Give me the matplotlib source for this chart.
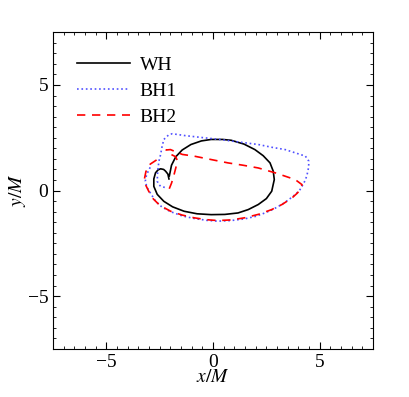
import numpy as np
import matplotlib
matplotlib.use('Agg')
import matplotlib.pyplot as plt
from matplotlib.ticker import MultipleLocator

plt.rcParams['font.family'] = ['Liberation Serif', 'DejaVu Serif']
plt.rcParams['mathtext.fontset'] = 'stix'

# Trajektorien
wh_x = [-2.05, -1.95, -1.75, -1.45, -1.04, -0.55, -0.09, 0.45, 0.85, 1.45, 1.96, 2.35, 2.67, 2.82,
        2.87, 2.75, 2.50, 2.12, 1.65, 1.17, 0.55, -0.09, -0.75, -1.36, -1.90, -2.31, -2.62, -2.78,
        -2.78, -2.70, -2.58, -2.46, -2.32, -2.23, -2.12, -2.07]
wh_y = [0.70, 1.20, 1.60, 1.92, 2.18, 2.35, 2.42, 2.42, 2.38, 2.20, 1.94, 1.65, 1.31, 0.92,
        0.52, -0.03, -0.38, -0.66, -0.90, -1.06, -1.13, -1.14, -1.10, -0.98, -0.77, -0.51, -0.18, 0.20,
        0.55, 0.84, 0.98, 1.03, 1.00, 0.92, 0.78, 0.55]

bh1_x = [-2.95, -3.12, -3.18, -3.10, -2.95, -2.70, -2.40, -1.99, -1.45, -0.89, -0.30, 0.22, 0.85, 1.48,
         2.00, 2.43, 2.85, 3.22, 3.55, 3.85, 4.05, 4.17, 4.33, 4.41, 4.48, 4.49, 4.33, 3.38,
         2.75, 2.12, 1.20, 0.30, -0.60, -1.30, -1.91, -2.07, -2.31, -2.40, -2.46, -2.54, -2.60,
         -2.62, -2.55, -2.46, -2.23]
bh1_y = [1.10, 0.75, 0.44, 0.15, -0.10, -0.50, -0.78, -1.00, -1.20, -1.32, -1.41, -1.45, -1.42, -1.34,
         -1.22, -1.06, -0.87, -0.66, -0.43, -0.19, 0.00, 0.20, 0.50, 0.76, 1.10, 1.39, 1.63, 1.94,
         2.05, 2.18, 2.30, 2.42, 2.52, 2.60, 2.69, 2.65, 2.42, 2.05, 1.71, 1.39, 0.90,
         0.44, 0.30, 0.20, 0.14]

bh2_x = [-2.65, -2.95, -3.15, -3.22, -3.18, -3.02, -2.80, -2.50, -1.99, -1.45, -0.89, -0.30, 0.22, 0.85,
         1.48, 2.15, 2.75, 3.25, 3.70, 3.95, 4.09, 4.17, 3.85, 2.91, 2.12, 1.40, 0.70, -0.10,
         -0.89, -1.44, -1.67, -2.00, -2.20, -2.05, -1.75, -1.67, -1.75, -1.85, -1.95, -2.07]
bh2_y = [1.45, 1.25, 0.90, 0.55, 0.30, -0.03, -0.40, -0.70, -0.98, -1.16, -1.29, -1.38, -1.42, -1.39,
         -1.29, -1.12, -0.90, -0.65, -0.35, -0.12, 0.05, 0.28, 0.52, 0.84, 1.07, 1.20, 1.31, 1.47,
         1.63, 1.71, 1.80, 1.94, 1.92, 1.75, 1.60, 1.40, 1.07, 0.68, 0.35, 0.05]

fig = plt.figure(figsize=(4.09, 3.97), dpi=100)
ax = fig.add_axes([0.130, 0.121, 0.782, 0.798])

ax.plot(wh_x, wh_y, '-', color='black', linewidth=1.2, label='WH')
ax.plot(bh1_x, bh1_y, ':', color='#5050ff', linewidth=1.2, label='BH1')
ax.plot(bh2_x, bh2_y, '--', color='red', linewidth=1.2, dashes=(5, 4), label='BH2')

ax.set_xlim(-7.5, 7.5)
ax.set_ylim(-7.5, 7.5)
ax.xaxis.set_minor_locator(MultipleLocator(0.5))
ax.yaxis.set_minor_locator(MultipleLocator(0.5))
ax.tick_params(which='both', direction='in', top=True, right=True, labelsize=14)
ax.tick_params(which='major', length=5)
ax.tick_params(which='minor', length=2.5)
ax.set_xticks([-5, 0, 5])
ax.set_xticklabels(['\u22125', '0', '5'])
ax.set_yticks([-5, 0, 5])
ax.set_yticklabels(['\u22125', '0', '5'])

ax.set_xlabel(r'$x/M$', fontsize=14, labelpad=-1)
ax.set_ylabel(r'$y/M$', fontsize=14, labelpad=0)

ax.legend(loc='upper left', frameon=False, fontsize=14, handlelength=2.7,
          handletextpad=0.5, borderaxespad=0.85, labelspacing=0.42)

plt.savefig('out.png', dpi=100)
